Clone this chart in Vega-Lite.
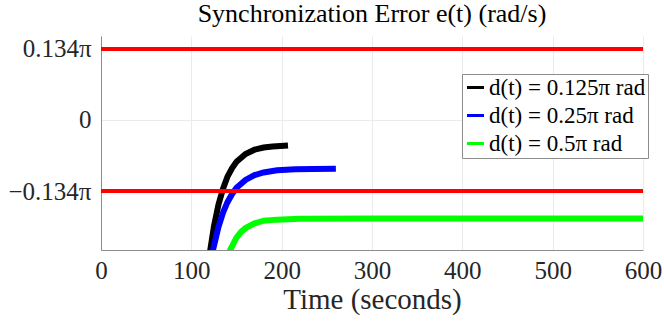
{
  "$schema": "https://vega.github.io/schema/vega-lite/v6.json",
  "width": 542,
  "height": 214,
  "autosize": "none",
  "padding": {"left": 101, "top": 36, "right": 21, "bottom": 71},
  "background": "white",
  "title": {"text": "Synchronization Error e(t) (rad/s)", "font": "Liberation Serif", "fontSize": 26, "fontWeight": "normal", "color": "#000000", "offset": 9, "anchor": "middle"},
  "config": {"view": {"stroke": null}},
  "datasets": {
    "curves": [
      {"d": "d(t) = 0.125π rad", "t": 115, "e": -0.335},
      {"d": "d(t) = 0.125π rad", "t": 121, "e": -0.245},
      {"d": "d(t) = 0.125π rad", "t": 125, "e": -0.201},
      {"d": "d(t) = 0.125π rad", "t": 130, "e": -0.160},
      {"d": "d(t) = 0.125π rad", "t": 135, "e": -0.130},
      {"d": "d(t) = 0.125π rad", "t": 140, "e": -0.107},
      {"d": "d(t) = 0.125π rad", "t": 145, "e": -0.091},
      {"d": "d(t) = 0.125π rad", "t": 150, "e": -0.079},
      {"d": "d(t) = 0.125π rad", "t": 160, "e": -0.064},
      {"d": "d(t) = 0.125π rad", "t": 170, "e": -0.056},
      {"d": "d(t) = 0.125π rad", "t": 180, "e": -0.052},
      {"d": "d(t) = 0.125π rad", "t": 190, "e": -0.050},
      {"d": "d(t) = 0.125π rad", "t": 207, "e": -0.048},
      {"d": "d(t) = 0.25π rad", "t": 115, "e": -0.344},
      {"d": "d(t) = 0.25π rad", "t": 124, "e": -0.245},
      {"d": "d(t) = 0.25π rad", "t": 130, "e": -0.202},
      {"d": "d(t) = 0.25π rad", "t": 135, "e": -0.175},
      {"d": "d(t) = 0.25π rad", "t": 140, "e": -0.155},
      {"d": "d(t) = 0.25π rad", "t": 145, "e": -0.140},
      {"d": "d(t) = 0.25π rad", "t": 150, "e": -0.128},
      {"d": "d(t) = 0.25π rad", "t": 160, "e": -0.113},
      {"d": "d(t) = 0.25π rad", "t": 170, "e": -0.104},
      {"d": "d(t) = 0.25π rad", "t": 180, "e": -0.099},
      {"d": "d(t) = 0.25π rad", "t": 195, "e": -0.095},
      {"d": "d(t) = 0.25π rad", "t": 215, "e": -0.093},
      {"d": "d(t) = 0.25π rad", "t": 235, "e": -0.0925},
      {"d": "d(t) = 0.25π rad", "t": 260, "e": -0.092},
      {"d": "d(t) = 0.5π rad", "t": 130, "e": -0.329},
      {"d": "d(t) = 0.5π rad", "t": 143, "e": -0.245},
      {"d": "d(t) = 0.5π rad", "t": 150, "e": -0.222},
      {"d": "d(t) = 0.5π rad", "t": 155, "e": -0.211},
      {"d": "d(t) = 0.5π rad", "t": 160, "e": -0.204},
      {"d": "d(t) = 0.5π rad", "t": 170, "e": -0.195},
      {"d": "d(t) = 0.5π rad", "t": 180, "e": -0.190},
      {"d": "d(t) = 0.5π rad", "t": 195, "e": -0.188},
      {"d": "d(t) = 0.5π rad", "t": 220, "e": -0.1865},
      {"d": "d(t) = 0.5π rad", "t": 300, "e": -0.186},
      {"d": "d(t) = 0.5π rad", "t": 400, "e": -0.186},
      {"d": "d(t) = 0.5π rad", "t": 500, "e": -0.186},
      {"d": "d(t) = 0.5π rad", "t": 600, "e": -0.186}
    ],
    "bounds": [
      {"b": "upper", "t": 0, "e": 0.134},
      {"b": "upper", "t": 600, "e": 0.134},
      {"b": "lower", "t": 0, "e": -0.134},
      {"b": "lower", "t": 600, "e": -0.134}
    ]
  },
  "layer": [
    {
      "data": {"name": "curves"},
      "mark": {"type": "line", "strokeWidth": 6, "clip": true},
      "encoding": {
        "x": {"field": "t", "type": "quantitative", "scale": {"domain": [0, 600], "nice": false},
          "title": "Time (seconds)",
          "axis": {"values": [0, 100, 200, 300, 400, 500, 600], "labelFlush": false, "labelFont": "Liberation Serif", "labelFontSize": 25, "labelColor": "#262626", "labelPadding": 8, "ticks": false, "domainColor": "#8c8c8c", "gridColor": "#ebebeb", "grid": true, "titleFont": "Liberation Serif", "titleFontSize": 29, "titleFontWeight": "normal", "titleColor": "#262626", "titlePadding": 2}},
        "y": {"field": "e", "type": "quantitative", "scale": {"domain": [-0.2453, 0.1585], "nice": false, "zero": false},
          "title": null,
          "axis": {"values": [-0.134, 0, 0.134], "labelExpr": "datum.value == 0 ? '0' : (datum.value < 0 ? '−0.134π' : '0.134π')", "labelFont": "Liberation Serif", "labelFontSize": 25, "labelColor": "#262626", "labelPadding": 10, "ticks": false, "domainColor": "#8c8c8c", "gridColor": "#ebebeb", "grid": true}},
        "color": {"field": "d", "type": "nominal",
          "scale": {"domain": ["d(t) = 0.125π rad", "d(t) = 0.25π rad", "d(t) = 0.5π rad"], "range": ["#000000", "#0000ff", "#00ff00"]},
          "legend": {"title": null, "orient": "none", "legendX": 361, "legendY": 38, "fillColor": "white", "strokeColor": "#8c8c8c", "padding": 2, "labelFont": "Liberation Serif", "labelFontSize": 23, "labelColor": "#000000", "labelOffset": 2, "symbolType": "stroke", "symbolStrokeWidth": 3, "symbolSize": 289, "rowPadding": 4, "symbolOffset": 0}}
      }
    },
    {
      "data": {"name": "bounds"},
      "mark": {"type": "line", "color": "#ff0000", "strokeWidth": 4},
      "encoding": {
        "x": {"field": "t", "type": "quantitative"},
        "y": {"field": "e", "type": "quantitative"},
        "detail": {"field": "b", "type": "nominal"}
      }
    }
  ]
}
